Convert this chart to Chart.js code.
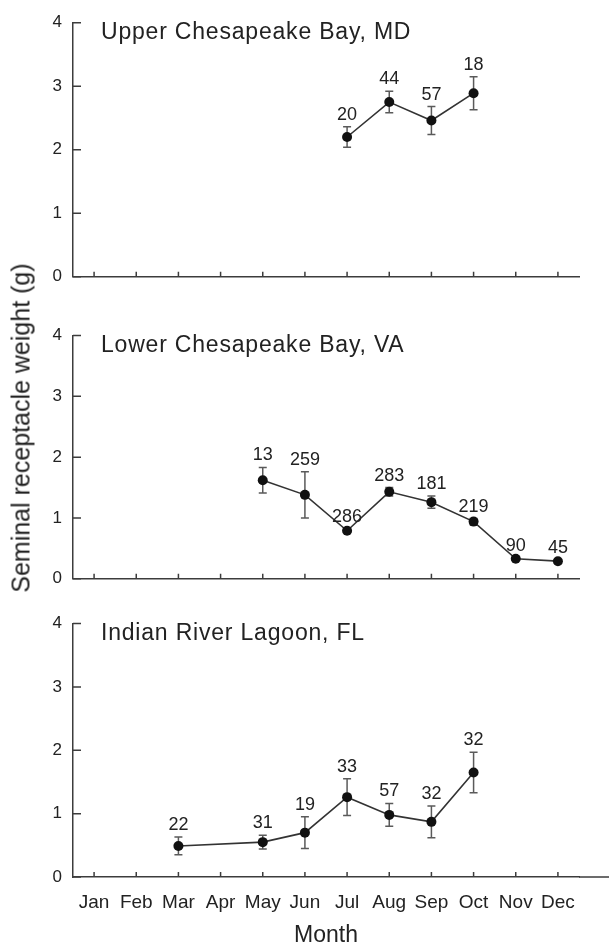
<!DOCTYPE html>
<html>
<head>
<meta charset="utf-8">
<script src="https://cdn.jsdelivr.net/npm/chart.js@4.4.1/dist/chart.umd.min.js"></script>
<style>
html,body{margin:0;padding:0;background:#fff;}
#wrap{position:relative;width:609px;height:947px;overflow:hidden;background:#fff;font-family:"Liberation Sans",Arial,sans-serif;}
canvas{position:absolute;left:0;}
#ytitle{position:absolute;left:21px;top:428px;transform:translate(-50%,-50%) rotate(-90deg);white-space:nowrap;font-size:25px;line-height:1;color:#222;}
</style>
</head>
<body>
<div id="wrap">
  <canvas id="c1" width="609" height="300" style="top:0px"></canvas>
  <canvas id="c2" width="609" height="300" style="top:300px"></canvas>
  <canvas id="c3" width="609" height="347" style="top:600px"></canvas>
  <div id="ytitle"></div>
</div>
<script>
// ---------- data ----------
const months = ['Jan','Feb','Mar','Apr','May','Jun','Jul','Aug','Sep','Oct','Nov','Dec'];
const yTickValues = [0, 1, 2, 3, 4];
const xTitle = 'Month';
const yTitle = 'Seminal receptacle weight (g)';

const upperTitle = 'Upper Chesapeake Bay, MD';
const upperMean = [null,null,null,null,null,null,2.20,2.75,2.46,2.89,null,null];
const upperErr  = [null,null,null,null,null,null,0.16,0.17,0.22,0.26,null,null];
const upperN    = [null,null,null,null,null,null,20,44,57,18,null,null];

const lowerTitle = 'Lower Chesapeake Bay, VA';
const lowerMean = [null,null,null,null,1.62,1.38,0.79,1.43,1.26,0.94,0.33,0.29];
const lowerErr  = [null,null,null,null,0.21,0.38,0.03,0.07,0.10,0.05,0.02,0.02];
const lowerN    = [null,null,null,null,13,259,286,283,181,219,90,45];

const indianTitle = 'Indian River Lagoon, FL';
const indianMean = [null,null,0.49,null,0.55,0.70,1.26,0.98,0.87,1.65,null,null];
const indianErr  = [null,null,0.14,null,0.11,0.25,0.29,0.18,0.25,0.32,null,null];
const indianN    = [null,null,22,null,31,19,33,57,32,32,null,null];

// ---------- styling ----------
const FONT = '"Liberation Sans", Arial, Helvetica, sans-serif';
const INK = '#222222';
const AXIS = '#3c3c3c';
const ERR = '#5a5a5a';

document.getElementById('ytitle').textContent = yTitle;

const panelDecor = {
  id: 'panelDecor',
  beforeDatasetsDraw(chart, args, opts) {
    const ctx = chart.ctx;
    const ys = chart.scales.y;
    const meta = chart.getDatasetMeta(0);
    const data = chart.data.datasets[0].data;
    ctx.save();
    ctx.strokeStyle = ERR;
    ctx.lineWidth = 1.5;
    meta.data.forEach((pt, i) => {
      const m = data[i], e = opts.err[i];
      if (m == null || e == null) return;
      const yt = ys.getPixelForValue(m + e);
      const yb = ys.getPixelForValue(m - e);
      ctx.beginPath();
      ctx.moveTo(pt.x, yt); ctx.lineTo(pt.x, yb);
      ctx.moveTo(pt.x - 4, yt); ctx.lineTo(pt.x + 4, yt);
      ctx.moveTo(pt.x - 4, yb); ctx.lineTo(pt.x + 4, yb);
      ctx.stroke();
    });
    ctx.restore();
  },
  afterDatasetsDraw(chart, args, opts) {
    const ctx = chart.ctx;
    const ys = chart.scales.y;
    const meta = chart.getDatasetMeta(0);
    const data = chart.data.datasets[0].data;
    ctx.save();
    ctx.fillStyle = INK;
    ctx.font = '18px ' + FONT;
    ctx.textAlign = 'center';
    ctx.textBaseline = 'alphabetic';
    meta.data.forEach((pt, i) => {
      const m = data[i], n = opts.n[i];
      if (m == null || n == null) return;
      const e = opts.err[i] || 0;
      ctx.fillText(String(n), pt.x, ys.getPixelForValue(m + e) - 7);
    });
    ctx.restore();
  },
  afterDraw(chart, args, opts) {
    const ctx = chart.ctx;
    const ca = chart.chartArea;
    const ys = chart.scales.y, xs = chart.scales.x;
    ctx.save();
    ctx.strokeStyle = AXIS;
    ctx.lineWidth = 1.5;
    ctx.beginPath();
    ys.ticks.forEach((t, i) => {
      const py = ys.getPixelForTick(i);
      ctx.moveTo(ca.left, py); ctx.lineTo(ca.left + 8, py);
    });
    xs.ticks.forEach((t, i) => {
      const px = xs.getPixelForTick(i);
      ctx.moveTo(px, ca.bottom); ctx.lineTo(px, ca.bottom - 5);
    });
    if (opts.extend) {
      ctx.moveTo(ca.right, ca.bottom); ctx.lineTo(chart.width, ca.bottom);
    }
    ctx.stroke();
    ctx.fillStyle = INK;
    ctx.font = '23px ' + FONT;
    if ('letterSpacing' in ctx) ctx.letterSpacing = '0.8px';
    ctx.textAlign = 'left';
    ctx.textBaseline = 'alphabetic';
    ctx.fillText(opts.title, ca.left + 28, ca.top + 16);
    ctx.restore();
  }
};

function makePanel(id, title, mean, err, n, padTop, xHeight, showX) {
  const cfg = {
    type: 'line',
    data: {
      labels: months,
      datasets: [{
        data: mean,
        borderColor: '#333333',
        borderWidth: 1.6,
        pointRadius: 5,
        pointBackgroundColor: '#111111',
        pointBorderWidth: 0,
        tension: 0,
        spanGaps: true,
        clip: false
      }]
    },
    options: {
      responsive: false,
      animation: false,
      events: [],
      devicePixelRatio: 1,
      layout: { padding: { top: padTop, right: 30, left: 0, bottom: 0 } },
      plugins: {
        legend: { display: false },
        tooltip: { enabled: false },
        panelDecor: { title: title, err: err, n: n, extend: showX }
      },
      scales: {
        x: {
          type: 'category',
          offset: true,
          grid: { display: false, drawTicks: false },
          border: { display: true, color: AXIS, width: 1.5 },
          ticks: {
            display: showX,
            autoSkip: false,
            maxRotation: 0,
            minRotation: 0,
            padding: 14,
            color: INK,
            font: { family: FONT, size: 19 }
          },
          title: {
            display: showX,
            text: xTitle,
            color: INK,
            font: { family: FONT, size: 23, lineHeight: 1 },
            padding: { top: 0, bottom: 0 }
          },
          afterFit: s => { s.height = xHeight; }
        },
        y: {
          type: 'linear',
          min: yTickValues[0],
          max: yTickValues[yTickValues.length - 1],
          afterBuildTicks: s => { s.ticks = yTickValues.map(v => ({ value: v })); },
          grid: { display: false, drawTicks: false },
          border: { display: true, color: AXIS, width: 1.5 },
          ticks: {
            padding: 11,
            color: INK,
            font: { family: FONT, size: 17 }
          },
          afterFit: s => { s.width = 73; }
        }
      }
    },
    plugins: [panelDecor]
  };
  return new Chart(document.getElementById(id), cfg);
}

makePanel('c1', upperTitle, upperMean, upperErr, upperN, 22.7, 23.3, false);
makePanel('c2', lowerTitle, lowerMean, lowerErr, lowerN, 35.5, 11, false);
makePanel('c3', indianTitle, indianMean, indianErr, indianN, 23.5, 70, true);
</script>
</body>
</html>
